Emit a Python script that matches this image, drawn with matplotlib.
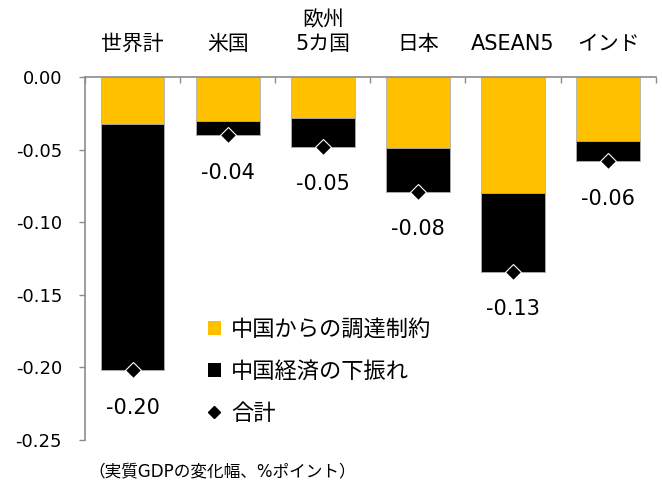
import matplotlib.pyplot as plt
from matplotlib.patches import Patch
from matplotlib.lines import Line2D

plt.rcParams['font.family'] = ['DejaVu Sans', 'Noto Sans CJK JP']

# 地域別の実質GDP押し下げ寄与（%ポイント）
regions = ['世界計', '米国', '欧州\n5カ国', '日本', 'ASEAN5', 'インド']
supply = [-0.032, -0.030, -0.028, -0.049, -0.080, -0.044]    # 中国からの調達制約
slowdown = [-0.170, -0.010, -0.020, -0.030, -0.054, -0.014]  # 中国経済の下振れ
totals = [a + b for a, b in zip(supply, slowdown)]
yticks = [0.00, -0.05, -0.10, -0.15, -0.20, -0.25]

orange = '#FFC000'
grey = '#8c8c8c'

fig = plt.figure(figsize=(6.62, 4.91), dpi=100)
ax = fig.add_axes([85 / 662, 1 - 440 / 491, 570.7 / 662, (440 - 77.3) / 491])

x = list(range(len(regions)))
ax.bar(x, supply, width=0.67, color=orange, edgecolor='#b0b0b0', linewidth=0.6, zorder=2)
ax.bar(x, slowdown, bottom=supply, width=0.67, color='black', edgecolor='#b0b0b0', linewidth=0.6, zorder=2)
ax.plot(x, totals, linestyle='none', marker='D', markersize=8, color='black',
        markeredgecolor='white', markeredgewidth=0.8, zorder=3)

for xi, t in zip(x, totals):
    ax.annotate(f'{t:.2f}', (xi, t), xytext=(0, -27), textcoords='offset points',
                ha='center', va='center', fontsize=15)

ax.set_xlim(-0.5, len(regions) - 0.5)
ax.set_ylim(-0.25, 0.0)
ax.set_yticks(yticks)
ax.set_yticklabels([f'{v:.2f}' for v in yticks], fontsize=13)
ax.tick_params(axis='y', direction='out', length=4.5, width=1, color=grey, pad=12)

# カテゴリ名は上側、区切りの目盛りはゼロ線から下向き
ax.xaxis.tick_top()
ax.set_xticks(x)
ax.set_xticklabels(regions, fontsize=15)
ax.set_xticks([i - 0.5 for i in range(len(regions) + 1)], minor=True)
ax.tick_params(axis='x', which='major', length=0, pad=17)
ax.tick_params(axis='x', which='minor', direction='in', length=4.5, width=1, color=grey)

for side in ['right', 'bottom']:
    ax.spines[side].set_visible(False)
for side in ['left', 'top']:
    ax.spines[side].set_color(grey)
    ax.spines[side].set_linewidth(1.2)

handles = [
    Patch(facecolor=orange, edgecolor='none'),
    Patch(facecolor='black', edgecolor='none'),
    Line2D([], [], linestyle='none', marker='D', markersize=6, color='black'),
]
labels = ['中国からの調達制約', '中国経済の下振れ', '合計']
ax.legend(handles, labels, loc='upper left', bbox_to_anchor=(0.215, 0.333),
          frameon=False, fontsize=16, handlelength=0.6, handleheight=0.6,
          handletextpad=0.45, labelspacing=0.95, borderaxespad=0, borderpad=0)

fig.text(88 / 662, 1 - 471 / 491, '（実質GDPの変化幅、%ポイント）', fontsize=12,
         ha='left', va='center')

fig.savefig('out.png', dpi=100)
